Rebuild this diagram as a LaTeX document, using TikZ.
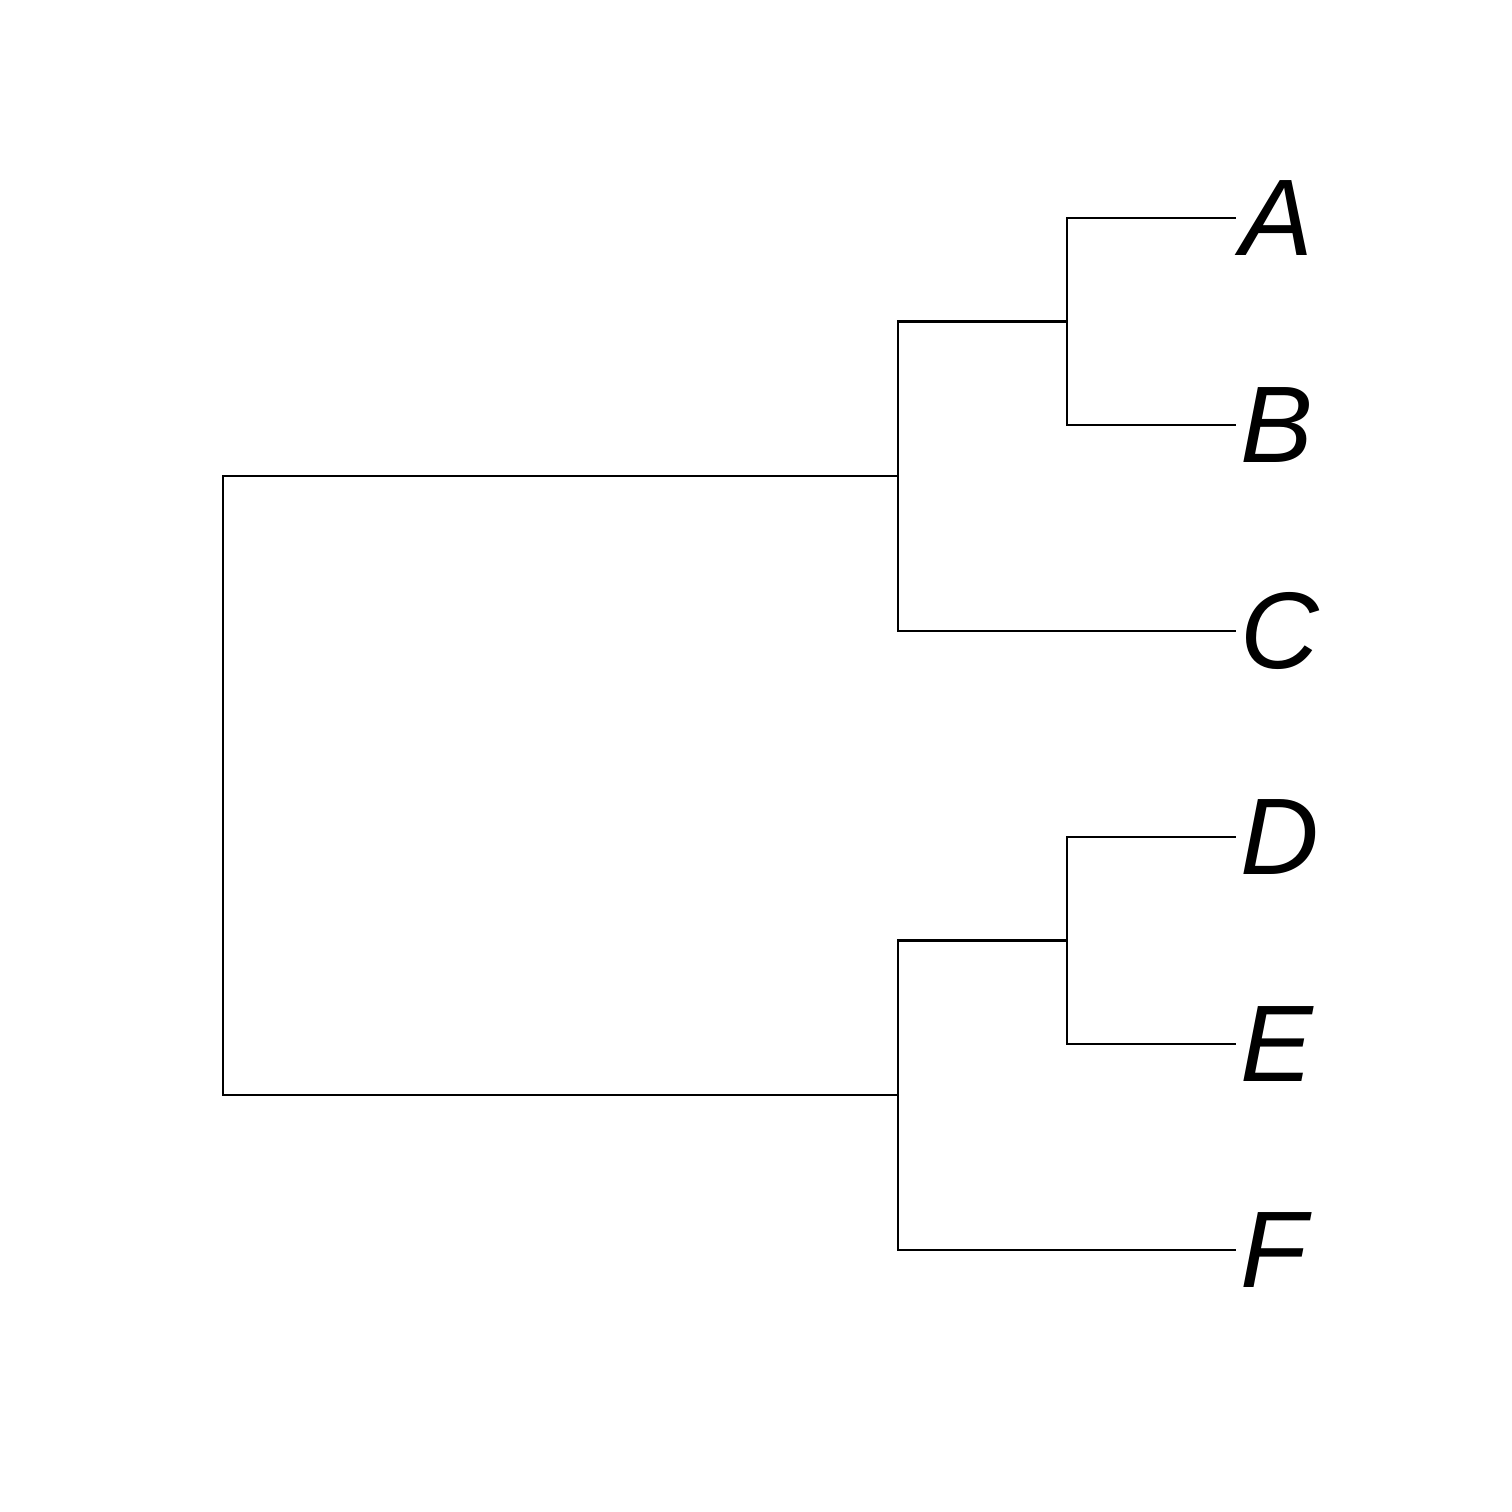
\documentclass[tikz,border=0pt]{standalone}
\usepackage{fontspec}
\setmainfont{Liberation Sans}
\usetikzlibrary{positioning}
\tikzset{
  % branch
	cstbranch/.style  ={line width=0.6pt, black}, %树枝
  % leaf label
	cstleaf/.style    ={anchor=west, inner sep=0.04cm, font=\fontsize{31}{31}\selectfont\itshape}
}

\begin{document}
\begin{tikzpicture}
			\useasboundingbox (0,0) rectangle (15.12,-15.12);
			% inner joins
			\coordinate (root) at (2.23,-7.855);
			\coordinate (n1) at (8.98,-4.76);
			\coordinate (n2) at (10.67,-3.215);
			\coordinate (n3) at (8.98,-10.95);
			\coordinate (n4) at (10.67,-9.405);
			% leaves
			\node[cstleaf] (A) at (12.36,-2.18) {A};
			\node[cstleaf] (B) at (12.36,-4.25) {B};
			\node[cstleaf] (C) at (12.36,-6.31) {C};
			\node[cstleaf] (D) at (12.36,-8.37) {D};
			\node[cstleaf] (E) at (12.36,-10.44) {E};
			\node[cstleaf] (F) at (12.36,-12.50) {F};
			% branches
			\draw[cstbranch] (root) |- (n1) (root) |- (n3);
			\draw[cstbranch] (n1) |- (n2) (n1) |- (C.west);
			\draw[cstbranch] (n2) |- (A.west) (n2) |- (B.west);
			\draw[cstbranch] (n3) |- (n4) (n3) |- (F.west);
			\draw[cstbranch] (n4) |- (D.west) (n4) |- (E.west);
		\end{tikzpicture}
\end{document}
